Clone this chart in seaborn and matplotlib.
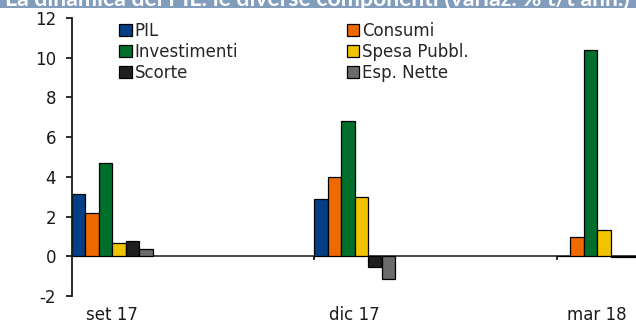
import matplotlib
matplotlib.use("Agg")
import matplotlib.pyplot as plt
from matplotlib.patches import Patch, Rectangle
import seaborn as sns
import pandas as pd

# Quarterly contributions (% q/q annualised) by GDP component
periods = ["set 17", "dic 17", "mar 18"]
components = ["PIL", "Consumi", "Investimenti", "Spesa Pubbl.", "Scorte", "Esp. Nette"]
pil = [3.15, 2.9, 0.0]
consumi = [2.2, 4.0, 0.95]
investimenti = [4.7, 6.8, 10.4]
spesa_pubbl = [0.65, 3.0, 1.3]
scorte = [0.75, -0.55, -0.05]
esp_nette = [0.35, -1.15, -0.05]

colors = ["#033f86", "#ee6a00", "#016f2c", "#f2c300", "#1f1f1f", "#6d6b69"]
title = "La dinamica del PIL: le diverse componenti (variaz. % t/t ann.)"

series = [pil, consumi, investimenti, spesa_pubbl, scorte, esp_nette]
df = pd.DataFrame(
    [(p, c, v) for c, vals in zip(components, series) for p, v in zip(periods, vals)],
    columns=["periodo", "componente", "valore"],
)

sns.set_theme(style="white")
plt.rcParams["font.family"] = ["DejaVu Sans"]
plt.rcParams["axes.unicode_minus"] = False

W, H, DPI = 636, 327, 100
fig = plt.figure(figsize=(W / DPI, H / DPI), dpi=DPI)
fig.patch.set_facecolor("white")

# axes box in pixel units
ax_l, ax_r, ax_t, ax_b = 72, 636, 18, 296
ax = fig.add_axes([ax_l / W, (H - ax_b) / H, (ax_r - ax_l) / W, (ax_b - ax_t) / H])

group_w = 0.3325
palette = dict(zip(components, colors))
sns.barplot(
    data=df, x="periodo", y="valore", hue="componente",
    order=periods, hue_order=components, palette=palette,
    width=group_w, dodge=True, saturation=1, legend=False,
    edgecolor="black", linewidth=0.9, ax=ax,
)

ax.set_ylim(-2, 12)
ax.set_yticks(range(-2, 13, 2))
x0 = -group_w / 2
ax.set_xlim(x0, x0 + (ax_r - ax_l) / 242.4)
ax.set_xlabel("")
ax.set_ylabel("")

for s in ["top", "right", "bottom"]:
    ax.spines[s].set_visible(False)
ax.spines["left"].set_color("#1a1a1a")
ax.spines["left"].set_linewidth(1.3)

ax.axhline(0, color="#3a3a3a", linewidth=1.3, zorder=0.5)
# category boundary ticks hanging below the zero line
ax.vlines([i - group_w / 2 for i in range(1, len(periods))], -0.2, 0,
          color="#1a1a1a", linewidth=1.3, zorder=0.5)

ax.tick_params(axis="y", which="major", direction="out", length=4.5, width=1.3,
               color="#1a1a1a", pad=7, labelsize=12, labelcolor="#1a1a1a", left=True)
ax.tick_params(axis="x", which="major", length=0, pad=7, labelsize=12,
               labelcolor="#1a1a1a")
ax.grid(False)

handles = [Patch(facecolor=c, edgecolor="black", linewidth=0.9) for c in colors]
order = [0, 2, 4, 1, 3, 5]
leg = ax.legend(
    [handles[i] for i in order], [components[i] for i in order],
    ncol=2, loc="upper left", bbox_to_anchor=(119 / W, 1 - 22 / H),
    bbox_transform=fig.transFigure, frameon=False, fontsize=12,
    handlelength=0.75, handleheight=0.75, handletextpad=0.2,
    columnspacing=6.5, labelspacing=0.18, borderpad=0, borderaxespad=0,
)

# title banner, running off the top edge of the figure
fig.patches.append(Rectangle((0, 1 - 8 / H), 1, 8 / H, transform=fig.transFigure,
                             facecolor="#819dbb", edgecolor="none", zorder=0))
t = fig.text(5 / W, 1 - 6.5 / H, title, color="white", fontsize=14,
             fontweight="bold", family=["Lato", "DejaVu Sans"], va="baseline", ha="left")
fig.canvas.draw()
bb = t.get_window_extent()
t.set_fontsize(14 * 629 / bb.width)

fig.savefig("out.png", dpi=DPI, facecolor="white")
